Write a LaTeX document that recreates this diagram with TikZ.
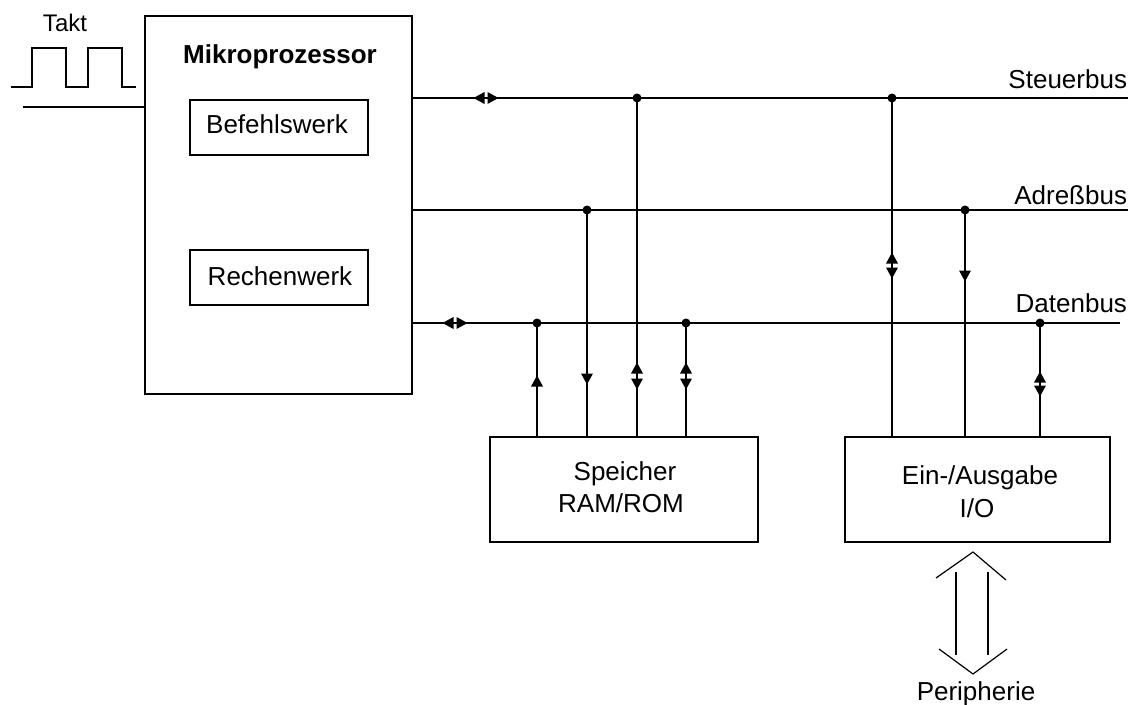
\documentclass[tikz,border=0pt]{standalone}
\usepackage{fontspec}
\setmainfont{Liberation Sans}
\begin{document}
\begin{tikzpicture}[x=1pt,y=-1pt,line width=2pt,
  box/.style={draw,line width=2pt,inner sep=0pt,anchor=north west},
  txt/.style={inner sep=0pt,font=\fontsize{26}{30}\selectfont},
  dot/.style={circle,fill,inner sep=0pt,minimum size=9pt},
  bus/.style={line width=2pt},
  thin/.style={line width=1.2pt},
  tipup/.pic={\fill (-6,5.5) -- (6,5.5) -- (0,-5.5) -- cycle;},
  tipdown/.pic={\fill (-6,-5.5) -- (6,-5.5) -- (0,5.5) -- cycle;},
  tipleft/.pic={\fill (5.5,-6) -- (5.5,6) -- (-5.5,0) -- cycle;},
  tipright/.pic={\fill (-5.5,-6) -- (-5.5,6) -- (5.5,0) -- cycle;}]
\useasboundingbox (0,0) rectangle (1131,704);

% boxes
\node[box,minimum width=267pt,minimum height=378pt] (cpu) at (144,15) {};
\node[box,minimum width=178pt,minimum height=55pt] (bef) at (189,99) {};
\node[box,minimum width=178pt,minimum height=55pt] (rech) at (189,249) {};
\node[box,minimum width=268pt,minimum height=105pt] (mem) at (489,436) {};
\node[box,minimum width=265pt,minimum height=105pt] (io) at (844,436) {};

% texts
\node[txt,anchor=base,font=\fontsize{26}{30}\selectfont\bfseries] (tcpu) at (280,63) {Mikroprozessor};
\node[txt,anchor=base] (tbef) at (277,133) {Befehlswerk};
\node[txt,anchor=base] (trech) at (280,285) {Rechenwerk};
\node[txt,anchor=base] (tmem1) at (625,480) {Speicher};
\node[txt,anchor=base] (tmem2) at (621,512) {RAM/ROM};
\node[txt,anchor=base] (tio1) at (980,484) {Ein-/Ausgabe};
\node[txt,anchor=base] (tio2) at (977,517) {I/O};
\node[txt,anchor=base,font=\fontsize{24}{28}\selectfont] (ttakt) at (65,31) {Takt};
\node[txt,anchor=base east] (tsb) at (1128,88) {Steuerbus};
\node[txt,anchor=base east] (tab) at (1128,204) {Adreßbus};
\node[txt,anchor=base east] (tdb) at (1128,312) {Datenbus};
\node[txt,anchor=base] (tper) at (976,700) {Peripherie};

% clock
\draw[line width=1.8pt] (11,87) -- (32,87) -- (32,48) -- (66,48) -- (66,87) -- (88,87) -- (88,48) -- (122,48) -- (122,87) -- (136,87);
\coordinate (clk) at (23,107);
\draw[bus] (clk) -- (clk -| cpu.west);

% buses
\coordinate (sbA) at (cpu.east |- 0,98);  \coordinate (sbB) at (1128,98);
\coordinate (abA) at (cpu.east |- 0,210); \coordinate (abB) at (1128,210);
\coordinate (dbA) at (cpu.east |- 0,323); \coordinate (dbB) at (1120,323);
\draw[bus] (sbA) -- (sbB);
\draw[bus] (abA) -- (abB);
\draw[bus] (dbA) -- (dbB);

% junctions
\node[dot] (j1) at (537,323) {};
\node[dot] (j2) at (587,210) {};
\node[dot] (j3) at (637,98) {};
\node[dot] (j4) at (686,323) {};
\node[dot] (j5) at (892,98) {};
\node[dot] (j6) at (965,210) {};
\node[dot] (j7) at (1040,323) {};

\foreach \j in {j1,j2,j3,j4} \draw[bus] (\j.center) -- (\j.center |- mem.north);
\foreach \j in {j5,j6,j7} \draw[bus] (\j.center) -- (\j.center |- io.north);

% arrow markers
\pic at (537,381) {tipup};
\pic at (587,379) {tipdown};
\pic at (637,368) {tipup};  \pic at (637,384) {tipdown};
\pic at (686,368) {tipup};  \pic at (686,384) {tipdown};
\pic at (892,258) {tipup};  \pic at (892,273) {tipdown};
\pic at (965,276) {tipdown};
\pic at (1040,377) {tipup}; \pic at (1040,391) {tipdown};
\pic at (479,98) {tipleft};  \pic at (493,98) {tipright};
\pic at (448,323) {tipleft}; \pic at (462,323) {tipright};

% peripherie arrow
\coordinate (pt) at (973,552);
\coordinate (pb) at (973,674);
\draw[thin] (956,572) -- (956,655);
\draw[thin] (988,572) -- (988,655);
\draw[thin] (936,578) -- (pt) -- (1006,580);
\draw[thin] (939,649) -- (pb) -- (1007,649);
\end{tikzpicture}
\end{document}
